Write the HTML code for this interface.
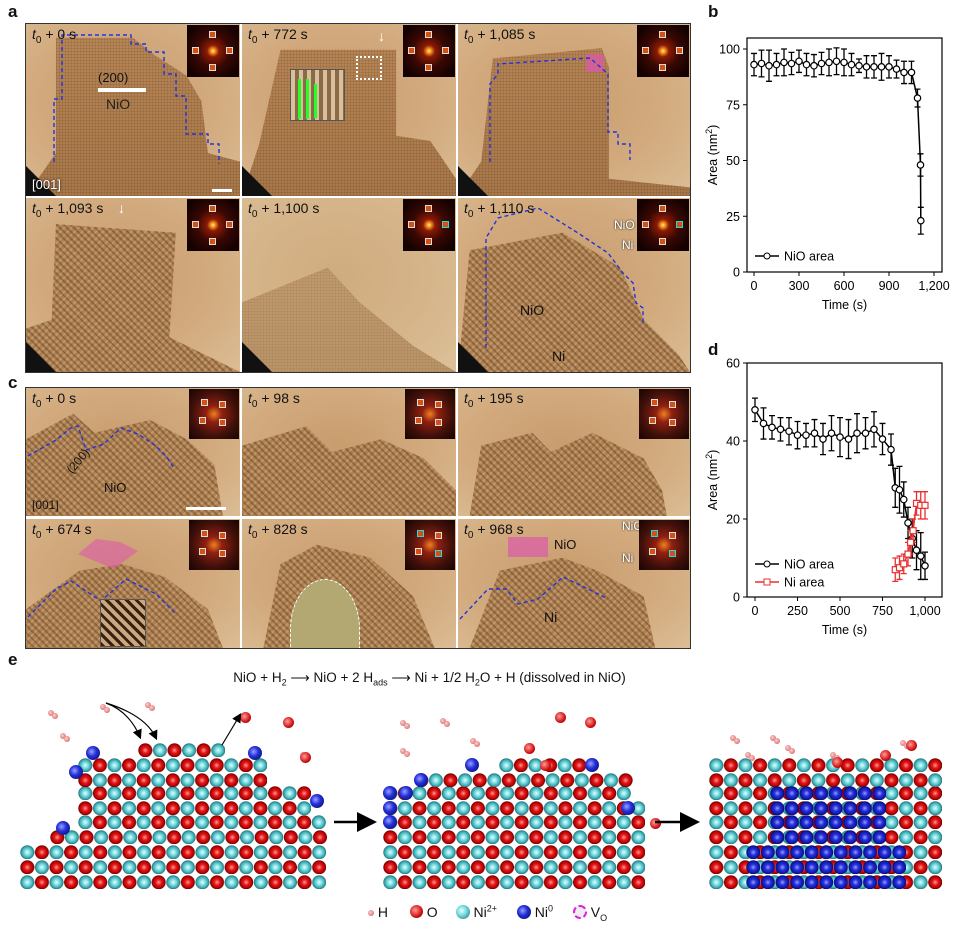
<!DOCTYPE html>
<html><head><meta charset="utf-8">
<style>
*{margin:0;padding:0;box-sizing:border-box}
body{width:955px;height:931px;background:#fff;position:relative;overflow:hidden;font-family:"Liberation Sans",sans-serif;color:#111}
.lab{position:absolute;font-weight:bold;font-size:17px}
.frame{position:absolute;background:#fff;border:1px solid #333}
.cell{position:absolute;overflow:hidden;background:
 radial-gradient(ellipse at 45% 45%, #c89d6e 0%, #d2aa7e 55%, #dcbd95 100%);}
.lat{position:absolute;inset:0;background:
 repeating-linear-gradient(0deg, rgba(70,40,15,.13) 0 1px, transparent 1px 3px),
 repeating-linear-gradient(90deg, rgba(70,40,15,.13) 0 1px, transparent 1px 3px),
 linear-gradient(#b88757,#a8784a);}
.latc{position:absolute;inset:0;background:
 repeating-linear-gradient(45deg, rgba(60,30,10,.3) 0 2px, transparent 2px 5px),
 repeating-linear-gradient(-45deg, rgba(255,240,210,.2) 0 2px, transparent 2px 5px),
 #b08150;}
.ni{position:absolute;background:
 repeating-linear-gradient(45deg, rgba(90,80,40,.25) 0 2px, transparent 2px 5px),#aea276;}
.fft{position:absolute;width:52px;height:52px;background:radial-gradient(circle at 50% 50%, #fff3a0 0, #ff9a20 2px, #8a1a05 6px, #3a0803 16px, #140200 30px);}
.fft i{position:absolute;width:7px;height:7px;border:1px solid #ddd;background:#d65010}
.fft i.c{border-color:#28d8e0}
.t{position:absolute;left:6px;top:2px;font-size:14px;color:#111;white-space:nowrap}
.t sub{font-size:10px}
.ax{font-size:12.5px}
.row{position:absolute;height:14.6px;background-repeat:repeat-x;background-size:29.2px 14.6px}
.c1{background-image:radial-gradient(circle at 7.3px 7.3px,#e6ffff 0,#78dbe0 3px,#3aa5ad 5.6px,#25737a 6.8px,transparent 7.2px),radial-gradient(circle at 21.9px 7.3px,#ff9a9a 0,#e01818 3px,#b00 5.6px,#600 6.8px,transparent 7.2px)}
.r1{background-image:radial-gradient(circle at 7.3px 7.3px,#ff9a9a 0,#e01818 3px,#b00 5.6px,#600 6.8px,transparent 7.2px),radial-gradient(circle at 21.9px 7.3px,#e6ffff 0,#78dbe0 3px,#3aa5ad 5.6px,#25737a 6.8px,transparent 7.2px)}
.b1{background-image:radial-gradient(circle at 7.3px 7.3px,#9aa0ff 0,#2430d8 3px,#1018b0 5.6px,#060a60 6.8px,transparent 7.2px);background-size:14.6px 14.6px}
.at{position:absolute;width:14px;height:14px;border-radius:50%}
.bl{background:radial-gradient(circle at 40% 40%,#9aa0ff 0,#2430d8 40%,#060a60 95%)}
.hh{position:absolute;width:6px;height:6px;border-radius:50%;background:radial-gradient(circle at 40% 40%,#ffd0d0,#d77 70%,#944)}
.wa{position:absolute;width:11px;height:11px;border-radius:50%;background:radial-gradient(circle at 40% 40%,#ff9a9a,#d01010 60%,#600)}
</style></head><body>

<div class="lab" style="left:8px;top:2px">a</div>
<div class="lab" style="left:708px;top:2px">b</div>
<div class="lab" style="left:8px;top:373px">c</div>
<div class="lab" style="left:708px;top:340px">d</div>
<div class="lab" style="left:8px;top:650px">e</div>

<div class="frame" style="left:25px;top:23px;width:666px;height:350px"></div>
<div class="frame" style="left:25px;top:387px;width:666px;height:262px"></div>
<div id="pa"></div>

<svg style="position:absolute;left:0;top:0" width="955" height="931" id="ch"></svg>

<div style="position:absolute;left:0;top:670px;width:955px;text-align:center;font-size:13.5px;padding-left:0">
<span style="position:relative;left:-48px">NiO + H<sub style="font-size:9px">2</sub> &#10230; NiO + 2 H<sub style="font-size:9px">ads</sub> &#10230; Ni + 1/2 H<sub style="font-size:9px">2</sub>O + H (dissolved in NiO)</span></div>
<div id="pe"></div>
<svg style="position:absolute;left:0;top:0" width="955" height="931">
<defs><marker id="ah" markerWidth="8" markerHeight="8" refX="6" refY="4" orient="auto"><path d="M0,0 L8,4 L0,8 z" fill="#000"/></marker></defs>
<line x1="334" y1="822" x2="372" y2="822" stroke="#000" stroke-width="2.5" marker-end="url(#ah)"/>
<line x1="655" y1="822" x2="695" y2="822" stroke="#000" stroke-width="2.5" marker-end="url(#ah)"/>
<path d="M106,703 C125,710 135,725 140,737" fill="none" stroke="#000" stroke-width="1.2" marker-end="url(#ah)"/>
<path d="M106,703 C135,712 150,725 156,738" fill="none" stroke="#000" stroke-width="1.2" marker-end="url(#ah)"/>
<path d="M222,745 L240,715" fill="none" stroke="#000" stroke-width="1.2" marker-end="url(#ah)"/>
</svg>
<div style="position:absolute;top:903px;left:368px;font-size:14px;white-space:nowrap">
<span class="hh" style="position:relative;display:inline-block;top:-1px"></span> H
<span class="wa" style="position:relative;display:inline-block;top:1px;margin-left:18px;width:13px;height:13px"></span> O
<span class="at" style="position:relative;display:inline-block;top:2px;margin-left:14px;background:radial-gradient(circle at 40% 40%,#e6ffff,#78dbe0 40%,#25737a 95%)"></span> Ni<sup style="font-size:9px">2+</sup>
<span class="at bl" style="position:relative;display:inline-block;top:2px;margin-left:16px"></span> Ni<sup style="font-size:9px">0</sup>
<span class="at" style="position:relative;display:inline-block;top:2px;margin-left:16px;background:#eee;border:2px dashed #e020e0"></span> V<sub style="font-size:9px">O</sub>
</div>

<script>
const cols=[[26,214],[242,214],[458,232]];
function cell(x,y,w,h,inner){return `<div class="cell" style="left:${x}px;top:${y}px;width:${w}px;height:${h}px">${inner}</div>`;}
function poly(cls,pts){return `<div class="${cls}" style="clip-path:polygon(${pts})"></div>`;}
function fft(w,cy){return `<div class="fft" style="left:${w-53}px;top:1px"><i style="left:22px;top:6px"></i><i style="left:22px;top:39px"></i><i style="left:5px;top:22px"></i><i class="${cy?'c':''}" style="left:39px;top:22px"></i></div>`;}
function fftc(w,cy){return `<div class="fft" style="left:${w-51}px;top:1px;width:50px;height:50px;background:radial-gradient(circle,#f08020 0,#902010 8px,#40100a 22px,#1a0502 34px)"><i class="${cy?'c':''}" style="left:12px;top:10px"></i><i style="left:30px;top:12px"></i><i style="left:10px;top:28px"></i><i class="${cy?'c':''}" style="left:30px;top:30px"></i></div>`;}
function tx(s){return `<div class="t"><i>t</i><sub>0</sub> + ${s} s</div>`;}
function dash(pts,col){return `<svg style="position:absolute;left:0;top:0" width="240" height="180"><polyline points="${pts}" fill="none" stroke="${col||'#2233dd'}" stroke-width="1.4" stroke-dasharray="4,3"/></svg>`;}
const tri='<div style="position:absolute;left:0;bottom:0;width:0;height:0;border-bottom:30px solid #111;border-right:30px solid transparent"></div>';
let h='';
const A=[
 ['0',poly('lat','14% 8%,50% 8%,60% 18%,75% 30%,82% 45%,85% 75%,100% 80%,100% 100%,0 100%,14% 75%')+dash('28,138 28,75 36,75 36,11 105,11 105,20 120,20 120,28 138,28 138,50 150,50 150,72 160,72 160,110 182,110 182,120 193,120 193,140')+tri+'<div style="position:absolute;left:72px;top:64px;width:48px;height:4px;background:#fff"></div><div style="position:absolute;left:72px;top:46px;font-size:13px">(200)</div><div style="position:absolute;left:80px;top:72px;font-size:14px;color:#222">NiO</div><div style="position:absolute;left:6px;bottom:4px;font-size:13px;color:#fff;text-shadow:0 0 2px #000">[001]</div><div style="position:absolute;right:8px;bottom:4px;width:20px;height:3px;background:#fff"></div>',0],
 ['772',poly('lat','18% 15%,72% 15%,72% 65%,88% 68%,100% 90%,100% 100%,0 100%,8% 70%')+tri+'<div style="position:absolute;left:48px;top:45px;width:55px;height:52px;background:repeating-linear-gradient(90deg,#d9c09a 0 4px,#8a6a48 4px 8px);border:1px solid #555"></div><div style="position:absolute;left:56px;top:55px;width:3px;height:40px;background:#2f2"></div><div style="position:absolute;left:64px;top:55px;width:3px;height:40px;background:#2f2"></div><div style="position:absolute;left:72px;top:60px;width:3px;height:34px;background:#2f2"></div><div style="position:absolute;left:114px;top:32px;width:26px;height:24px;border:2px dotted #fff"></div><div style="position:absolute;left:136px;top:4px;color:#fff;font-size:14px">&#8595;</div>',0],
 ['1,085',poly('lat','15% 20%,62% 14%,65% 25%,65% 90%,100% 95%,100% 100%,0 100%,10% 80%')+tri+'<div style="position:absolute;left:128px;top:30px;width:18px;height:18px;background:rgba(220,90,170,.75)"></div>'+dash('32,138 32,60 40,50 40,40 132,34 150,50 150,108 160,108 160,120 172,120 172,136'),0],
 ['1,093',poly('latc','14% 15%,70% 20%,67% 80%,100% 100%,0 100%,0 75%,12% 70%')+'<div style="position:absolute;left:92px;top:2px;color:#fff;font-size:14px">&#8595;</div>'+tri,1],
 ['1,100',poly('lat','0 60%,40% 40%,55% 60%,80% 85%,100% 100%,0 100%')+'<div style="position:absolute;inset:0;background:rgba(220,200,160,.35)"></div>'+poly('ni','43% 84%,60% 87%,68% 100%,38% 100%')+tri,1],
 ['1,110',poly('latc','5% 30%,45% 20%,70% 40%,80% 70%,95% 90%,100% 100%,0 100%')+poly('ni','20% 88%,65% 76%,82% 100%,5% 100%')+dash('28,150 28,40 40,20 80,10 120,35 150,55 165,75 175,85 178,105 185,110 185,125')+'<div style="position:absolute;left:62px;top:104px;font-size:14px">NiO</div><div style="position:absolute;left:94px;top:150px;font-size:14px">Ni</div><div style="position:absolute;left:156px;top:20px;color:#fff;font-size:12px;text-shadow:0 0 2px #000">NiO</div><div style="position:absolute;left:164px;top:40px;color:#fff;font-size:12px;text-shadow:0 0 2px #000">Ni</div>'+tri,1]
];
const rowsA=[[24,172],[198,174]];
A.forEach((p,i)=>{const c=cols[i%3],r=rowsA[Math.floor(i/3)];h+=cell(c[0],r[0],c[1],r[1],p[1]+fft(c[1],i==4||i==5)+tx(p[0]));});
const rowsC=[[388,128],[519,129]];
const C=[
 ['0',poly('latc','0 40%,22% 20%,32% 35%,58% 25%,75% 40%,88% 60%,92% 100%,0 100%')+dash('2,68 30,52 45,40 52,38 60,62 78,56 95,40 112,46 130,58 140,68 148,80')+'<div style="position:absolute;left:38px;top:66px;font-size:12px;transform:rotate(-50deg)">(200)</div><div style="position:absolute;left:78px;top:92px;font-size:13px">NiO</div><div style="position:absolute;left:6px;bottom:4px;font-size:12px">[001]</div><div style="position:absolute;right:14px;bottom:6px;width:40px;height:3px;background:#fff"></div>'],
 ['98',poly('latc','0 45%,30% 30%,42% 50%,65% 40%,85% 55%,100% 80%,100% 100%,0 100%')],
 ['195',poly('latc','10% 45%,32% 35%,40% 50%,58% 35%,80% 55%,88% 80%,90% 100%,5% 100%')],
 ['674',poly('latc','0 70%,25% 40%,45% 35%,65% 45%,85% 70%,92% 100%,0 100%')+'<div style="position:absolute;left:52px;top:20px;width:60px;height:30px;background:rgba(220,90,170,.6);clip-path:polygon(0 50%,30% 0,70% 10%,100% 40%,60% 100%)"></div>'+dash('2,98 30,70 45,62 75,82 100,60 130,75 150,95')+'<div style="position:absolute;left:74px;top:80px;width:46px;height:48px;background:repeating-linear-gradient(45deg,#3a2010 0 3px,#c9a880 3px 7px);border:1px solid #555"></div>'],
 ['828',poly('latc','18% 35%,35% 20%,60% 30%,80% 60%,90% 100%,10% 100%')+'<div style="position:absolute;left:48px;top:60px;width:70px;height:100px;border-radius:50% 50% 0 0;background:#b3a872;border:1.5px dashed #fff"></div>'],
 ['968',poly('latc','18% 40%,45% 30%,60% 40%,80% 60%,85% 100%,5% 100%')+poly('ni','10% 50%,30% 55%,55% 55%,70% 40%,85% 70%,95% 100%,0 100%')+'<div style="position:absolute;left:50px;top:18px;width:40px;height:20px;background:rgba(220,90,170,.7)"></div>'+dash('2,100 30,70 48,70 60,85 80,80 105,58 130,70 150,80')+'<div style="position:absolute;left:96px;top:18px;font-size:13px">NiO</div><div style="position:absolute;left:86px;top:90px;font-size:14px">Ni</div><div style="position:absolute;left:164px;top:0px;color:#fff;font-size:12px;text-shadow:0 0 2px #000">NiO</div><div style="position:absolute;left:164px;top:32px;color:#fff;font-size:12px;text-shadow:0 0 2px #000">Ni</div>']
];
C.forEach((p,i)=>{const c=cols[i%3],r=rowsC[Math.floor(i/3)];h+=cell(c[0],r[0],c[1],r[1],p[1]+fftc(c[1],i==4||i==5)+tx(p[0]));});
document.getElementById('pa').innerHTML=h;

function chart(o){
 let s='';
 const X=t=>o.x0+t*o.sx, Y=v=>o.y0-v*o.sy;
 s+=`<rect x="${o.L}" y="${o.T}" width="${o.R-o.L}" height="${o.B-o.T}" fill="none" stroke="#000" stroke-width="1.2"/>`;
 o.yt.forEach(v=>{s+=`<line x1="${o.L-4}" x2="${o.L}" y1="${Y(v)}" y2="${Y(v)}" stroke="#000"/><text class="ax" x="${o.L-7}" y="${Y(v)+4.5}" text-anchor="end">${v}</text>`;});
 o.xt.forEach(([t,l])=>{s+=`<line x1="${X(t)}" x2="${X(t)}" y1="${o.B}" y2="${o.B+4}" stroke="#000"/><text class="ax" x="${X(t)}" y="${o.B+18}" text-anchor="middle">${l}</text>`;});
 s+=`<text class="ax" x="${(o.L+o.R)/2}" y="${o.B+37}" text-anchor="middle">Time (s)</text>`;
 s+=`<text class="ax" transform="translate(${o.L-30},${(o.T+o.B)/2}) rotate(-90)" text-anchor="middle">Area (nm<tspan dy="-5" font-size="9">2</tspan><tspan dy="5">)</tspan></text>`;
 o.series.forEach(se=>{
  let d='';se.d.forEach(([t,v,e],i)=>{d+=(i?'L':'M')+X(t)+','+Y(v);
   s+=`<path d="M${X(t)},${Y(v-e)}V${Y(v+e)}M${X(t)-3},${Y(v-e)}h6M${X(t)-3},${Y(v+e)}h6" stroke="${se.c}" stroke-width="1.3" fill="none"/>`;});
  s+=`<path d="${d}" stroke="${se.c}" stroke-width="1.5" fill="none"/>`;
  se.d.forEach(([t,v])=>{s+=se.sq?`<rect x="${X(t)-3}" y="${Y(v)-3}" width="6" height="6" fill="#fff" stroke="${se.c}" stroke-width="1.2"/>`:`<circle cx="${X(t)}" cy="${Y(v)}" r="3.2" fill="#fff" stroke="${se.c}" stroke-width="1.2"/>`;});
 });
 o.leg.forEach(([y,c,l,sq])=>{s+=`<line x1="${o.L+8}" x2="${o.L+32}" y1="${y}" y2="${y}" stroke="${c}" stroke-width="1.5"/>`+(sq?`<rect x="${o.L+17}" y="${y-3}" width="6" height="6" fill="#fff" stroke="${c}"/>`:`<circle cx="${o.L+20}" cy="${y}" r="3" fill="#fff" stroke="${c}"/>`)+`<text class="ax" x="${o.L+37}" y="${y+4.5}">${l}</text>`;});
 return s;
}
const bv=[93,93.5,92.5,93,94,93.5,94.5,93,92.5,93.5,94,94.5,94,93,92.5,92,92,92,92,91,89.5,89.5];
const be=[5,6,7,5,6,5,5,5,5,5,6,6,6,5,3,5,5,6,5,4,5,5];
let bd=bv.map((v,i)=>[i*50,v,be[i]]);bd.push([1090,78,4],[1110,48,5],[1112,23,6]);
const dv=[48,44.5,43.5,43,42.5,41.5,41.5,42,40.5,42,41,40.5,42,42,43,40.5,37.8,28,27.5,25,19,15,12,10.5,8];
const dt=[0,50,100,150,200,250,300,350,400,450,500,550,600,650,700,750,800,825,850,875,900,925,950,975,1000];
const de=[3,4,3,3,3.5,3.5,3,3.5,4,4.5,5,5,5,4,4.5,4,4,5,6,4.5,4,5,5,6,3.5];
const dd=dt.map((t,i)=>[t,dv[i],de[i]]);
const nd=[[825,7,3],[850,7.5,3],[875,8.5,2.5],[900,11,3],[915,14,3],[930,17,3],[950,24,3],[975,23.5,3.5],[1000,23.5,3.5]];
let cs=chart({L:747,R:942,T:38,B:272,x0:754,sx:0.15,y0:272,sy:2.23,yt:[0,25,50,75,100],xt:[[0,'0'],[300,'300'],[600,'600'],[900,'900'],[1200,'1,200']],series:[{c:'#000',d:bd}],leg:[[256,'#000','NiO area']]});
cs+=chart({L:747,R:942,T:363,B:597,x0:755,sx:0.17,y0:597,sy:3.9,yt:[0,20,40,60],xt:[[0,'0'],[250,'250'],[500,'500'],[750,'750'],[1000,'1,000']],series:[{c:'#000',d:dd},{c:'#e83030',d:nd,sq:1}],leg:[[564,'#000','NiO area'],[582,'#e83030','Ni area',1]]});
document.getElementById('ch').innerHTML=cs;

let e='';
function row(x1,x2,yc,odd,cls){const n=Math.round((x2-x1)/14.6)+1;e+=`<div class="row ${cls||(odd?'r1':'c1')}" style="left:${x1-7.3}px;top:${yc-7.3}px;width:${n*14.6}px"></div>`;}
const ys=[882,867,852,837,822,808,793,780,765,750];
[[27,320],[27,320],[27,320],[57,320],[85,320],[85,305],[85,305],[85,262],[85,262],[145,218]].forEach((r,i)=>row(r[0],r[1],ys[i],i%2));
[[93,753],[76,772],[255,753],[317,801],[63,828]].forEach(([x,y])=>e+=`<div class="at bl" style="left:${x-7}px;top:${y-7}px"></div>`);
[[390,640],[390,640],[390,640],[390,640],[390,640],[390,640],[390,628],[421,628],[506,573]].forEach((r,i)=>row(r[0],r[1],ys[i],i%2));
[[390,808],[390,793],[406,793],[421,780],[472,765],[592,765],[628,808],[390,822]].forEach(([x,y])=>e+=`<div class="at bl" style="left:${x-7}px;top:${y-7}px"></div>`);
for(let i=0;i<9;i++)row(716,933,ys[i],i%2);
for(let i=0;i<3;i++)row(753,893,ys[i],0,'b1');
for(let i=3;i<7;i++)row(777,878,ys[i],0,'b1');
[[48,710],[100,704],[145,702],[60,733],[300,752],[400,720],[440,718],[470,738],[400,748],[730,735],[770,735],[745,752],[785,745],[900,740],[830,752]].forEach(([x,y])=>e+=`<div class="hh" style="left:${x}px;top:${y}px"></div><div class="hh" style="left:${x+4}px;top:${y+3}px"></div>`);
[[240,712],[283,717],[300,752],[555,712],[585,717],[524,743],[540,760],[832,757],[880,750],[906,740],[650,818]].forEach(([x,y])=>e+=`<div class="wa" style="left:${x}px;top:${y}px"></div>`);
document.getElementById('pe').innerHTML=e;
</script>
</body></html>
